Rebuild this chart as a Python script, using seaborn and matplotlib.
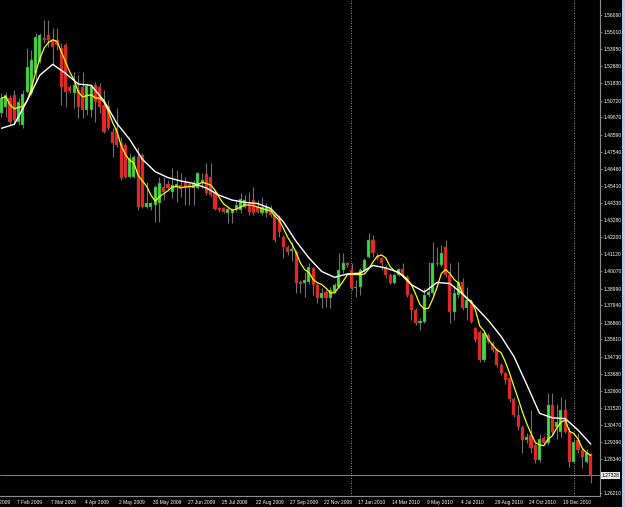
import numpy as np
import pandas as pd
import seaborn as sns
import matplotlib.pyplot as plt
from matplotlib.patches import Rectangle

# 캔들 데이터
opens = [
    1.4992, 1.5034, 1.5090, 1.5107, 1.4940, 1.4919, 1.5127, 1.5117, 1.5242, 1.5315,
    1.5465, 1.5481, 1.5450, 1.5450, 1.5398, 1.5419, 1.5154, 1.5117, 1.5138, 1.5159,
    1.5013, 1.5013, 1.5169, 1.5159, 1.5044, 1.5040, 1.4878, 1.4899, 1.4805, 1.4795,
    1.4597, 1.4597, 1.4722, 1.4732, 1.4406, 1.4410, 1.4420, 1.4431, 1.4535, 1.4551,
    1.4503, 1.4530, 1.4545, 1.4555, 1.4551, 1.4524, 1.4524, 1.4555, 1.4614, 1.4597,
    1.4503, 1.4399, 1.4399, 1.4372, 1.4368, 1.4393, 1.4389, 1.4410, 1.4435, 1.4451,
    1.4410, 1.4372, 1.4368, 1.4399, 1.4358, 1.4337, 1.4223, 1.4156, 1.4135, 1.4129,
    1.3938, 1.3931, 1.3940, 1.4025, 1.3921, 1.3838, 1.3879, 1.3838, 1.3879, 1.3911,
    1.4015, 1.4056, 1.4015, 1.3900, 1.3911, 1.4015, 1.4098, 1.4202, 1.4102, 1.4087,
    1.4035, 1.3983, 1.3936, 1.3983, 1.4019, 1.3973, 1.3859, 1.3765, 1.3684, 1.3692,
    1.3859, 1.3869, 1.4060, 1.4046, 1.4160, 1.3983, 1.3755, 1.3860, 1.3938, 1.3775,
    1.3817, 1.3651, 1.3630, 1.3453, 1.3609, 1.3560, 1.3516, 1.3422, 1.3370, 1.3338,
    1.3210, 1.3110, 1.3037, 1.2954, 1.2985, 1.2922, 1.2829, 1.2964, 1.2933, 1.3172,
    1.3037, 1.3006, 1.3141, 1.3006, 1.2819, 1.2954, 1.2891, 1.2819, 1.2866]
highs = [
    1.5117, 1.5127, 1.5107, 1.5138, 1.5086, 1.5138, 1.5398, 1.5387, 1.5492, 1.5492,
    1.5575, 1.5575, 1.5523, 1.5523, 1.5429, 1.5429, 1.5169, 1.5252, 1.5231, 1.5252,
    1.5179, 1.5169, 1.5190, 1.5179, 1.5138, 1.5075, 1.4899, 1.5023, 1.4847, 1.4805,
    1.4743, 1.4732, 1.4784, 1.4743, 1.4566, 1.4441, 1.4545, 1.4597, 1.4597, 1.4576,
    1.4649, 1.4638, 1.4618, 1.4597, 1.4555, 1.4576, 1.4628, 1.4618, 1.4680, 1.4680,
    1.4514, 1.4410, 1.4410, 1.4410, 1.4399, 1.4451, 1.4493, 1.4483, 1.4503, 1.4530,
    1.4451, 1.4472, 1.4431, 1.4420, 1.4368, 1.4358, 1.4233, 1.4170, 1.4190, 1.4140,
    1.3950, 1.4004, 1.4056, 1.4035, 1.3931, 1.3900, 1.3890, 1.3911, 1.3931, 1.4119,
    1.4119, 1.4067, 1.4056, 1.3952, 1.4025, 1.4087, 1.4243, 1.4233, 1.4119, 1.4098,
    1.4046, 1.3994, 1.3994, 1.4025, 1.4060, 1.3983, 1.3869, 1.3775, 1.3714, 1.3900,
    1.4067, 1.4191, 1.4160, 1.4171, 1.4202, 1.4056, 1.3921, 1.4067, 1.3963, 1.3911,
    1.3828, 1.3661, 1.3640, 1.3630, 1.3620, 1.3570, 1.3526, 1.3432, 1.3380, 1.3349,
    1.3225, 1.3172, 1.3047, 1.2995, 1.3141, 1.2933, 1.2990, 1.2980, 1.3245, 1.3245,
    1.3180, 1.3220, 1.3210, 1.3037, 1.2960, 1.2995, 1.2912, 1.2900, 1.2871]
lows = [
    1.4971, 1.4971, 1.4919, 1.4919, 1.4919, 1.4899, 1.5117, 1.5107, 1.5179, 1.5304,
    1.5429, 1.5408, 1.5294, 1.5387, 1.5044, 1.5034, 1.5117, 1.5023, 1.4961, 1.4961,
    1.4982, 1.4971, 1.4940, 1.4992, 1.4867, 1.4888, 1.4722, 1.4784, 1.4576, 1.4587,
    1.4587, 1.4587, 1.4389, 1.4399, 1.4399, 1.4389, 1.4316, 1.4316, 1.4451, 1.4520,
    1.4462, 1.4441, 1.4472, 1.4420, 1.4420, 1.4420, 1.4520, 1.4524, 1.4483, 1.4472,
    1.4389, 1.4379, 1.4368, 1.4306, 1.4306, 1.4379, 1.4368, 1.4399, 1.4358, 1.4358,
    1.4368, 1.4358, 1.4347, 1.4347, 1.4191, 1.4223, 1.4087, 1.4110, 1.4070, 1.3869,
    1.3870, 1.3848, 1.3925, 1.3859, 1.3807, 1.3775, 1.3786, 1.3775, 1.3869, 1.3900,
    1.3994, 1.4035, 1.3890, 1.3848, 1.3859, 1.4004, 1.4088, 1.4098, 1.4077, 1.4015,
    1.3963, 1.3927, 1.3927, 1.3975, 1.3970, 1.3848, 1.3703, 1.3672, 1.3640, 1.3682,
    1.3848, 1.3859, 1.4040, 1.4035, 1.3973, 1.3682, 1.3703, 1.3838, 1.3765, 1.3703,
    1.3682, 1.3567, 1.3443, 1.3443, 1.3557, 1.3505, 1.3412, 1.3360, 1.3300, 1.3193,
    1.3100, 1.3016, 1.2871, 1.2933, 1.2871, 1.2808, 1.2819, 1.2920, 1.2923, 1.2985,
    1.2960, 1.2975, 1.2995, 1.2788, 1.2810, 1.2870, 1.2777, 1.2810, 1.2683]
closes = [
    1.5086, 1.5107, 1.4940, 1.4951, 1.5065, 1.5111, 1.5283, 1.5325, 1.5467, 1.5481,
    1.5450, 1.5450, 1.5408, 1.5419, 1.5159, 1.5127, 1.5134, 1.5169, 1.5034, 1.5013,
    1.5163, 1.5163, 1.5065, 1.5034, 1.4878, 1.4899, 1.4805, 1.4795, 1.4587, 1.4597,
    1.4711, 1.4722, 1.4410, 1.4410, 1.4435, 1.4431, 1.4535, 1.4555, 1.4503, 1.4524,
    1.4545, 1.4551, 1.4520, 1.4524, 1.4535, 1.4551, 1.4618, 1.4576, 1.4493, 1.4483,
    1.4393, 1.4389, 1.4379, 1.4393, 1.4389, 1.4420, 1.4456, 1.4451, 1.4379, 1.4372,
    1.4379, 1.4410, 1.4410, 1.4358, 1.4202, 1.4254, 1.4156, 1.4129, 1.4145, 1.3931,
    1.3930, 1.3952, 1.4035, 1.3921, 1.3838, 1.3873, 1.3838, 1.3890, 1.3921, 1.4015,
    1.4056, 1.4046, 1.3900, 1.3911, 1.4015, 1.4077, 1.4202, 1.4119, 1.4088, 1.4056,
    1.3983, 1.3936, 1.3983, 1.4019, 1.3990, 1.3859, 1.3765, 1.3684, 1.3694, 1.3859,
    1.3879, 1.4056, 1.4050, 1.4119, 1.3983, 1.3755, 1.3870, 1.3942, 1.3775, 1.3830,
    1.3692, 1.3578, 1.3453, 1.3620, 1.3567, 1.3516, 1.3422, 1.3370, 1.3330, 1.3210,
    1.3110, 1.3037, 1.2954, 1.2970, 1.2902, 1.2829, 1.2958, 1.2933, 1.3172, 1.3006,
    1.3068, 1.3141, 1.3006, 1.2819, 1.2943, 1.2891, 1.2850, 1.2870, 1.2733]

# 흰색 이동평균선 (3봉 간격으로 읽은 값)
slow_ma_bars = list(range(0, 139, 3))
slow_ma = [
    1.4899, 1.4924, 1.5071, 1.5231, 1.5298, 1.5242, 1.5175, 1.5167, 1.5071, 1.4930,
    1.4830, 1.4705, 1.4628, 1.4591, 1.4570, 1.4555, 1.4526, 1.4481, 1.4451, 1.4437,
    1.4429, 1.4399, 1.4316, 1.4193, 1.4090, 1.4005, 1.3969, 1.3990, 1.3995, 1.4043,
    1.4027, 1.4000, 1.3923, 1.3877, 1.3937, 1.3930, 1.3865, 1.3785, 1.3700, 1.3600,
    1.3475, 1.3300, 1.3120, 1.3092, 1.3087, 1.3016, 1.2928]

price_ticks = [1.56060, 1.55010, 1.53950, 1.52880, 1.51830, 1.50720, 1.49670,
               1.48590, 1.47540, 1.46460, 1.45410, 1.44330, 1.43280, 1.42200,
               1.41120, 1.40070, 1.38990, 1.37940, 1.36860, 1.35810, 1.34730,
               1.33680, 1.32600, 1.31520, 1.30470, 1.29390, 1.28340, 1.26210]
date_labels = ['7 Feb 2009', '7 Mar 2009', '4 Apr 2009', '2 May 2009', '30 May 2009',
               '27 Jun 2009', '25 Jul 2009', '22 Aug 2009', '27 Sep 2009', '22 Nov 2009',
               '17 Jan 2010', '14 Mar 2010', '9 May 2010', '4 Jul 2010', '29 Aug 2010',
               '24 Oct 2010', '19 Dec 2010']
cut_label = '10 Jan 2009'
current_price = 1.27328
separators = [81.8, 134.0]

df = pd.DataFrame({'open': opens, 'high': highs, 'low': lows, 'close': closes})
df['bar'] = np.arange(len(df))
df['ma_fast'] = df['close'].rolling(5, min_periods=1).mean()
df['up'] = df['close'] >= df['open']

# 스타일
sns.set_style('dark', {'axes.facecolor': 'black', 'figure.facecolor': 'black',
                       'axes.edgecolor': '#8c8c8c'})
plt.rcParams['font.family'] = ['Liberation Sans', 'DejaVu Sans']

fig = plt.figure(figsize=(6.25, 5.07), dpi=100, facecolor='black')
ax = fig.add_axes([0, 11.5 / 507, 600 / 625, 495.5 / 507])
ax.set_facecolor('black')

# 꼬리
ax.vlines(df['bar'], df['low'], df['high'], color='#707070', lw=0.8, zorder=2)
# 몸통
body = (df['close'] - df['open']).abs().clip(lower=0.0003)
bottom = df[['open', 'close']].min(axis=1)
ax.bar(df['bar'], body, bottom=bottom, width=0.72,
       color=np.where(df['up'], '#3ae03a', '#ff1e1e'),
       edgecolor='#505050', linewidth=0.3, zorder=3)

# 이동평균선
sns.lineplot(x=df['bar'], y=df['ma_fast'], color='#ffff00', lw=0.9, ax=ax, zorder=4)
sns.lineplot(x=slow_ma_bars, y=slow_ma, color='white', lw=1.0, ax=ax, zorder=4)

# 구분선, 현재가
for s in separators:
    ax.axvline(s, color='#c0c0c0', ls=(0, (1, 2)), lw=0.6, zorder=1)
ax.axhline(current_price, color='#9a9a9a', lw=0.6, zorder=1)
ax.text(1.003, current_price, f'{current_price:.5f}', transform=ax.get_yaxis_transform(),
        va='center', ha='left', fontsize=3.6, color='black', clip_on=False,
        bbox=dict(boxstyle='square,pad=0.15', fc='#e8e8e8', ec='none'))

ax.set_xlim(-0.35, 140.16)
ax.set_ylim(1.26072, 1.56996)
ax.set_xlabel('')
ax.set_ylabel('')
ax.grid(False)

ax.yaxis.tick_right()
ax.set_yticks(price_ticks, [f'{v:.5f}' for v in price_ticks])
ax.tick_params(axis='y', colors='#8c8c8c', labelcolor='white', labelsize=3.6,
               length=1.5, width=0.6, pad=1.2)

date_ticks = [3.56 + 8 * k for k in range(len(date_labels))]
ax.set_xticks(date_ticks, date_labels, ha='left')
ax.tick_params(axis='x', colors='#8c8c8c', labelcolor='white', labelsize=3.5,
               length=2, width=0.6, pad=1)
ax.text(3.56 - 8, -0.0085, cut_label, transform=ax.get_xaxis_transform(),
        ha='left', va='top', fontsize=3.5, color='white', clip_on=False)

for side in ['left', 'top']:
    ax.spines[side].set_visible(False)
for side in ['right', 'bottom']:
    ax.spines[side].set_color('#8c8c8c')
    ax.spines[side].set_linewidth(0.8)

# 창 테두리
fig.add_artist(Rectangle((622 / 625, 0), 3 / 625, 1, transform=fig.transFigure,
                         fc='#b8c8e0', ec='none'))

fig.savefig('out.png', dpi=100, facecolor='black')
